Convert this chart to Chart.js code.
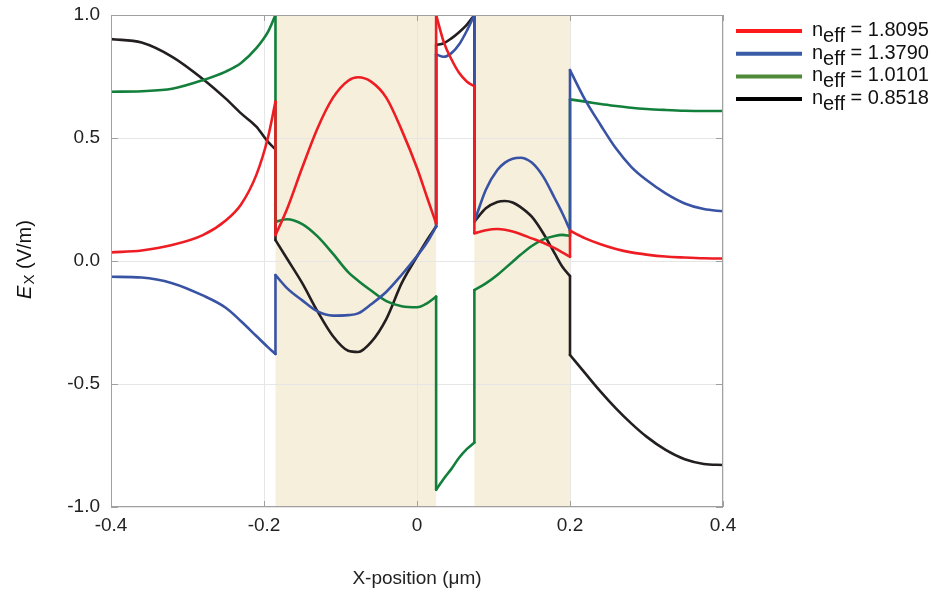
<!DOCTYPE html>
<html>
<head>
<meta charset="utf-8">
<script src="https://cdn.jsdelivr.net/npm/chart.js@4"></script>
<style>
  body { margin: 0; background: #fff; }
  #wrap { position: relative; width: 938px; height: 597px; }
</style>
</head>
<body>
<div id="wrap"><canvas id="fieldChart" width="938" height="597"></canvas></div>
<script>
  // x positions (um), repeated x = jump at an interface
  let xPos = [
    -0.4, -0.36, -0.32, -0.28, -0.25, -0.23, -0.21, -0.195, -0.185,
    -0.185, -0.17, -0.15, -0.13, -0.11, -0.09, -0.077, -0.06, -0.04, -0.02, 0, 0.013, 0.025,
    0.025, 0.035, 0.045, 0.055, 0.065, 0.075,
    0.075, 0.09, 0.105, 0.115, 0.125, 0.135, 0.15, 0.165, 0.18, 0.19, 0.2,
    0.2, 0.22, 0.24, 0.26, 0.28, 0.3, 0.325, 0.35, 0.375, 0.4
  ];

  let exRed = [
    0.035, 0.043, 0.065, 0.105, 0.165, 0.23, 0.35, 0.5, 0.648,
    0.105, 0.21, 0.38, 0.54, 0.663, 0.733, 0.747, 0.729, 0.663, 0.532, 0.378, 0.26, 0.153,
    1.0, 0.89, 0.82, 0.765, 0.73, 0.71,
    0.113, 0.125, 0.13, 0.127, 0.12, 0.11, 0.092, 0.074, 0.052, 0.035, 0.017,
    0.123, 0.092, 0.068, 0.049, 0.035, 0.026, 0.018, 0.014, 0.011, 0.01
  ];
  let exBlue = [
    -0.064, -0.067, -0.09, -0.14, -0.19, -0.245, -0.305, -0.35, -0.378,
    -0.057, -0.11, -0.16, -0.205, -0.222, -0.22, -0.213, -0.176, -0.125, -0.056, 0.02, 0.075, 0.14,
    0.84, 0.83, 0.845, 0.88, 0.935, 1.0,
    0.16, 0.29, 0.37, 0.40, 0.416, 0.42, 0.40, 0.343, 0.255, 0.194, 0.126,
    0.776, 0.654, 0.553, 0.458, 0.383, 0.329, 0.275, 0.234, 0.211, 0.202
  ];
  let exGreen = [
    0.688, 0.69, 0.70, 0.735, 0.77, 0.805, 0.865, 0.93, 1.0,
    0.16, 0.17, 0.15, 0.1, 0.03, -0.045, -0.08, -0.12, -0.163, -0.184, -0.188, -0.172, -0.145,
    -0.93, -0.885, -0.845, -0.80, -0.765, -0.738,
    -0.118, -0.091, -0.057, -0.03, -0.003, 0.024, 0.061, 0.088, 0.102, 0.106, 0.102,
    0.657, 0.648, 0.638, 0.63, 0.623, 0.618, 0.614, 0.611, 0.61, 0.61
  ];
  let exBlack = [
    0.902, 0.888, 0.83, 0.74, 0.66, 0.60, 0.546, 0.485, 0.454,
    0.085, 0.01, -0.09, -0.205, -0.305, -0.365, -0.37, -0.33, -0.235, -0.09, 0.018, 0.085, 0.14,
    0.878, 0.885, 0.905, 0.93, 0.96, 1.0,
    0.16, 0.214, 0.24, 0.244, 0.238, 0.22, 0.18, 0.113, 0.031, -0.023, -0.061,
    -0.382, -0.457, -0.531, -0.599, -0.66, -0.714, -0.768, -0.806, -0.825, -0.829
  ];

  let nEff = ["1.8095", "1.3790", "1.0101", "0.8518"];
  let lineColors = ["#ee1d23", "#3953a4", "#127f3b", "#231f20"];
  let legendColors = ["#ff1a1a", "#3a5ca8", "#4e8a3a", "#000000"];

  // high-index layers (um)
  let layers = [[-0.185, 0.025], [0.075, 0.2]];

  let xTicks = [-0.4, -0.2, 0, 0.2, 0.4];
  let yTicks = [-1.0, -0.5, 0.0, 0.5, 1.0];

  let fontFam = "'Liberation Sans', Arial, sans-serif";

  // split one series into smooth pieces + straight jumps at interfaces
  function buildSets(ys, color) {
    let sets = [];
    let run = [];
    for (let i = 0; i < xPos.length; i++) {
      if (i > 0 && xPos[i] === xPos[i - 1]) {
        sets.push({ data: run, tension: 0.4 });
        sets.push({ data: [{ x: xPos[i - 1], y: ys[i - 1] }, { x: xPos[i], y: ys[i] }], tension: 0 });
        run = [];
      }
      run.push({ x: xPos[i], y: ys[i] });
    }
    sets.push({ data: run, tension: 0.4 });
    return sets.map(s => Object.assign(s, {
      showLine: true,
      borderColor: color,
      backgroundColor: color,
      borderWidth: 2.6,
      pointRadius: 0,
      cubicInterpolationMode: "monotone",
      borderCapStyle: "round",
      borderJoinStyle: "round"
    }));
  }

  let layerPlugin = {
    id: "layers",
    beforeDraw(chart) {
      let c = chart.ctx, a = chart.chartArea, xs = chart.scales.x;
      c.save();
      c.fillStyle = "#f6efdc";
      for (const l of layers) {
        let x0 = xs.getPixelForValue(l[0]);
        let x1 = xs.getPixelForValue(l[1]);
        c.fillRect(x0, a.top, x1 - x0, a.bottom - a.top);
      }
      c.restore();
    },
    afterDraw(chart) {
      let c = chart.ctx, a = chart.chartArea;
      let xs = chart.scales.x, ys = chart.scales.y;
      c.save();
      // frame + inward ticks
      c.strokeStyle = "#a0a0a0";
      c.lineWidth = 1;
      c.strokeRect(a.left + 0.5, a.top + 0.5, a.right - a.left - 1, a.bottom - a.top - 1);
      c.beginPath();
      for (const t of xTicks) {
        let px = Math.round(xs.getPixelForValue(t)) + 0.5;
        c.moveTo(px, a.bottom); c.lineTo(px, a.bottom - 6);
        c.moveTo(px, a.top); c.lineTo(px, a.top + 6);
      }
      for (const t of yTicks) {
        let py = Math.round(ys.getPixelForValue(t)) + 0.5;
        c.moveTo(a.left, py); c.lineTo(a.left + 7, py);
        c.moveTo(a.right, py); c.lineTo(a.right - 7, py);
      }
      c.stroke();

      // y title: E_x (V/m)
      c.translate(25, 260);
      c.rotate(-Math.PI / 2);
      c.fillStyle = "#111";
      c.textBaseline = "middle";
      let f1 = "italic 20px " + fontFam, f2 = "15px " + fontFam, f3 = "20px " + fontFam;
      c.font = f1; let wE = c.measureText("E").width;
      c.font = f2; let wX = c.measureText("X").width;
      c.font = f3; let wR = c.measureText(" (V/m)").width;
      let sx = -(wE + wX + wR) / 2;
      c.font = f1; c.fillText("E", sx, 0);
      c.font = f2; c.fillText("X", sx + wE + 1, 5);
      c.font = f3; c.fillText(" (V/m)", sx + wE + wX + 1, 0);
      c.restore();

      // legend
      c.save();
      c.textBaseline = "alphabetic";
      c.fillStyle = "#111";
      for (let i = 0; i < nEff.length; i++) {
        let ly = 31 + i * 22.7;
        c.strokeStyle = legendColors[i];
        c.lineWidth = 4;
        c.beginPath();
        c.moveTo(736, ly); c.lineTo(802, ly);
        c.stroke();
        let tx = 812;
        c.font = "20px " + fontFam;
        c.fillText("n", tx, ly + 5);
        tx += c.measureText("n").width;
        c.fillText("eff", tx, ly + 11);
        tx += c.measureText("eff").width;
        c.fillText(" = " + nEff[i], tx, ly + 5);
      }
      c.restore();
    }
  };

  let ctxField = document.getElementById("fieldChart");

  var fieldChart = new Chart(ctxField, {
    type: "scatter",
    data: {
      datasets: [].concat(
        buildSets(exRed, lineColors[0]),
        buildSets(exBlue, lineColors[1]),
        buildSets(exGreen, lineColors[2]),
        buildSets(exBlack, lineColors[3])
      )
    },
    options: {
      responsive: false,
      animation: false,
      layout: { padding: { left: 0, top: 15, right: 215, bottom: 0 } },
      plugins: {
        legend: { display: false },
        tooltip: { enabled: false }
      },
      scales: {
        x: {
          type: "linear",
          min: -0.4, max: 0.4,
          afterBuildTicks: (s) => { s.ticks = xTicks.map(v => ({ value: v })); },
          afterFit: (s) => { s.height = 90; s.paddingLeft = 0; s.paddingRight = 0; },
          grid: { color: "#e6e6e6", drawTicks: false },
          border: { display: false },
          ticks: {
            padding: 7,
            color: "#222",
            font: { family: fontFam, size: 19 },
            callback: (v) => Math.abs(v) < 1e-9 ? "0" : v.toFixed(1)
          },
          title: {
            display: true,
            text: "X-position (\u03bcm)",
            color: "#222",
            font: { family: fontFam, size: 19 },
            padding: { top: 23, bottom: 7 }
          }
        },
        y: {
          type: "linear",
          min: -1, max: 1,
          afterBuildTicks: (s) => { s.ticks = yTicks.map(v => ({ value: v })); },
          afterFit: (s) => { s.width = 111; s.paddingTop = 0; s.paddingBottom = 0; },
          grid: { color: "#e6e6e6", drawTicks: false },
          border: { display: false },
          ticks: {
            padding: 11,
            color: "#222",
            font: { family: fontFam, size: 19 },
            callback: (v) => v.toFixed(1)
          }
        }
      }
    },
    plugins: [layerPlugin]
  });
</script>
</body>
</html>
